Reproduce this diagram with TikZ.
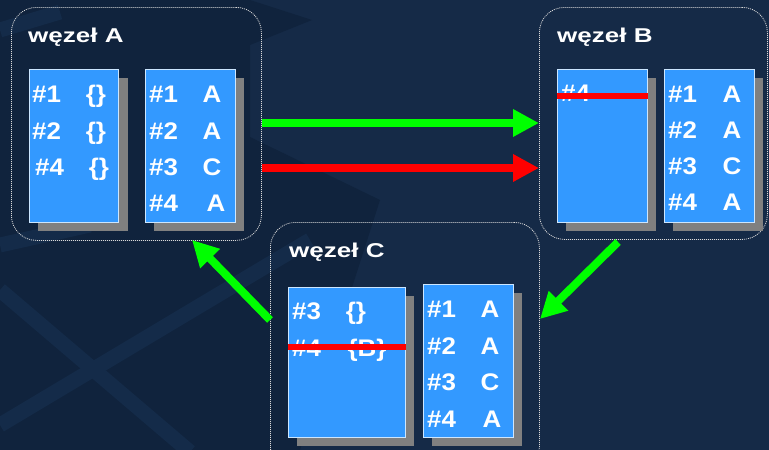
\documentclass[tikz,border=0pt]{standalone}
\usepackage{fontspec}
\setmainfont{Liberation Sans}
\newfontfamily\titlefont[FakeStretch=1.3]{Liberation Sans}
\newfontfamily\cellfont[FakeStretch=1.08]{Liberation Sans}
\usetikzlibrary{arrows.meta}
\definecolor{bgbase}{HTML}{152A47}
\definecolor{bgdark}{HTML}{10233D}
\definecolor{bgband}{HTML}{142B49}
\definecolor{tblue}{HTML}{3399FF}
\definecolor{shgray}{HTML}{808080}
\definecolor{agreen}{HTML}{00FF00}
\definecolor{ared}{HTML}{FF0000}
\tikzset{
  nodebox/.style={draw=white!85!black, dash pattern=on 1pt off 1pt, line width=0.8pt, rounded corners=25pt, inner sep=0, anchor=north west},
  tbl/.style={fill=tblue, draw=white!75!tblue, line width=0.9pt, inner sep=0, anchor=north west},
  shade/.style={fill=shgray, inner sep=0, anchor=north west},
  lbl/.style={font=\cellfont\bfseries\fontsize{24}{24}\selectfont, text=white, inner sep=0},
  ttl/.style={font=\titlefont\bfseries\fontsize{20}{20}\selectfont, text=white, inner sep=0, anchor=base west},
  bigarrow/.style={line width=8pt, -{Triangle[length=26pt,width=26pt]}},
  strike/.style={draw=ared, line width=6.5pt},
  band/.style={draw=bgband, line width=15pt}
}
\begin{document}
\begin{tikzpicture}[x=1pt,y=-1pt]
\useasboundingbox (0,0) rectangle (769,450);
\clip (0,0) rectangle (769,450);
% background
\fill[bgbase] (0,0) rectangle (769,450);
\fill[bgdark] (0,0) -- (250,0) -- (312,20) -- (250,45) -- (250,137) -- (380,200) -- (300,450) -- (0,450) -- cycle;
\draw[band] (0,290) -- (190,452);
\draw[band] (0,425) -- (273,262) -- (310,240);
\draw[band] (0,245) -- (90,225);
\draw[band] (0,30) -- (60,12);
% node boxes
\node[nodebox, minimum width=250pt, minimum height=233pt] (boxA) at (11,7) {};
\node[nodebox, minimum width=228pt, minimum height=232pt] (boxB) at (539,7) {};
\node[nodebox, minimum width=269pt, minimum height=250pt] (boxC) at (270,222) {};
\node[ttl] (tA) at (28,42) {węzeł A};
\node[ttl] (tB) at (557,42) {węzeł B};
\node[ttl] (tC) at (289,257) {węzeł C};
% shadows
\node[shade, minimum width=90pt, minimum height=153pt] (sA1) at (38,78) {};
\node[shade, minimum width=90pt, minimum height=153pt] (sA2) at (154,78) {};
\node[shade, minimum width=90pt, minimum height=153pt] (sB1) at (566,78) {};
\node[shade, minimum width=90pt, minimum height=153pt] (sB2) at (673,78) {};
\node[shade, minimum width=117pt, minimum height=150pt] (sC1) at (297,296) {};
\node[shade, minimum width=90pt, minimum height=153pt] (sC2) at (432,293) {};
% tables
\node[tbl, minimum width=89pt, minimum height=153pt] (tA1) at (29,69) {};
\node[tbl, minimum width=90pt, minimum height=153pt] (tA2) at (145,69) {};
\node[tbl, minimum width=90pt, minimum height=153pt] (tB1) at (557,69) {};
\node[tbl, minimum width=90pt, minimum height=153pt] (tB2) at (664,69) {};
\node[tbl, minimum width=117pt, minimum height=150pt] (tC1) at (288,287) {};
\node[tbl, minimum width=90pt, minimum height=153pt] (tC2) at (423,284) {};
% table A1
\node[lbl, anchor=base west] (a11) at (32,102) {\#1};
\node[lbl, anchor=base] (a12) at (96,102) {\{\}};
\node[lbl, anchor=base west] (a21) at (32,139) {\#2};
\node[lbl, anchor=base] (a22) at (96,139) {\{\}};
\node[lbl, anchor=base west] (a31) at (35,175) {\#4};
\node[lbl, anchor=base] (a32) at (99,175) {\{\}};
% table A2
\node[lbl, anchor=base west] (b11) at (149,102) {\#1};
\node[lbl, anchor=base] (b12) at (212,102) {A};
\node[lbl, anchor=base west] (b21) at (149,139) {\#2};
\node[lbl, anchor=base] (b22) at (212,139) {A};
\node[lbl, anchor=base west] (b31) at (149,175) {\#3};
\node[lbl, anchor=base] (b32) at (212,175) {C};
\node[lbl, anchor=base west] (b41) at (149,211) {\#4};
\node[lbl, anchor=base] (b42) at (216,211) {A};
% table B1
\node[lbl, anchor=base west] (c11) at (561,101) {\#4};
\draw[strike] (tB1.west |- 0,96) -- (tB1.east |- 0,96);
% table B2
\node[lbl, anchor=base west] (d11) at (668,102) {\#1};
\node[lbl, anchor=base] (d12) at (732,102) {A};
\node[lbl, anchor=base west] (d21) at (668,138) {\#2};
\node[lbl, anchor=base] (d22) at (732,138) {A};
\node[lbl, anchor=base west] (d31) at (668,174) {\#3};
\node[lbl, anchor=base] (d32) at (732,174) {C};
\node[lbl, anchor=base west] (d41) at (668,210) {\#4};
\node[lbl, anchor=base] (d42) at (732,210) {A};
% table C1
\node[lbl, anchor=base west] (e11) at (292,319) {\#3};
\node[lbl, anchor=base] (e12) at (356,319) {\{\}};
\node[lbl, anchor=base west] (e21) at (292,356) {\#4};
\node[lbl, anchor=base] (e22) at (367,356) {\{B\}};
\draw[strike] (tC1.west |- 0,347) -- (tC1.east |- 0,347);
% table C2
\node[lbl, anchor=base west] (f11) at (427,317) {\#1};
\node[lbl, anchor=base] (f12) at (490,317) {A};
\node[lbl, anchor=base west] (f21) at (427,354) {\#2};
\node[lbl, anchor=base] (f22) at (490,354) {A};
\node[lbl, anchor=base west] (f31) at (427,390) {\#3};
\node[lbl, anchor=base] (f32) at (490,390) {C};
\node[lbl, anchor=base west] (f41) at (427,427) {\#4};
\node[lbl, anchor=base] (f42) at (492,427) {A};
% arrows
\coordinate (gs) at (boxA.east |- 0,123);
\coordinate (ge) at (boxB.west |- 0,123);
\coordinate (rs) at (boxA.east |- 0,168);
\coordinate (re) at (boxB.west |- 0,168);
\coordinate (bcs) at (618,242);
\coordinate (bce) at (540,319);
\coordinate (cas) at (270,320);
\coordinate (cae) at (192,240);
\draw[bigarrow, agreen] (gs) -- (ge);
\draw[bigarrow, ared] (rs) -- (re);
\draw[bigarrow, agreen] (bcs) -- (bce);
\draw[bigarrow, agreen] (cas) -- (cae);
\end{tikzpicture}
\end{document}
